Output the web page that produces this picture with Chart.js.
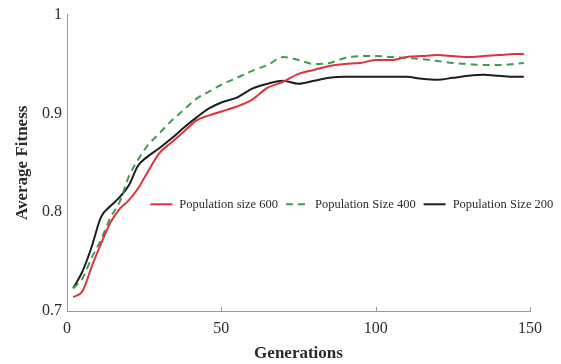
<!DOCTYPE html>
<html>
<head>
<meta charset="utf-8">
<script src="https://cdn.jsdelivr.net/npm/chart.js@4/dist/chart.umd.min.js"></script>
<style>
  html, body { margin: 0; padding: 0; background: #fff; }
  #wrap { width: 561px; height: 364px; }
</style>
</head>
<body>
<div id="wrap"><canvas id="fitness-chart" width="561" height="364"></canvas></div>
<script>
// Data
const generations = [2, 5, 8, 11, 14, 17, 20, 23, 26, 30, 34, 38, 42, 46, 50, 55, 60, 65, 70, 75, 80, 85, 90, 95, 100, 105, 110, 115, 120, 125, 130, 135, 140, 145, 148];
const pop600 = [0.714, 0.720, 0.745, 0.768, 0.789, 0.803, 0.812, 0.824, 0.840, 0.860, 0.871, 0.882, 0.893, 0.898, 0.902, 0.907, 0.914, 0.926, 0.932, 0.940, 0.944, 0.948, 0.950, 0.951, 0.954, 0.954, 0.957, 0.958, 0.959, 0.958, 0.957, 0.958, 0.959, 0.960, 0.960];
const pop400 = [0.723, 0.733, 0.754, 0.772, 0.794, 0.810, 0.836, 0.853, 0.867, 0.880, 0.893, 0.904, 0.915, 0.922, 0.929, 0.936, 0.943, 0.949, 0.957, 0.954, 0.950, 0.951, 0.956, 0.958, 0.958, 0.957, 0.956, 0.955, 0.953, 0.951, 0.950, 0.949, 0.949, 0.950, 0.951];
const pop200 = [0.723, 0.740, 0.765, 0.795, 0.806, 0.815, 0.827, 0.847, 0.856, 0.865, 0.875, 0.886, 0.896, 0.905, 0.911, 0.916, 0.925, 0.930, 0.933, 0.930, 0.933, 0.936, 0.937, 0.937, 0.937, 0.937, 0.937, 0.935, 0.934, 0.936, 0.938, 0.939, 0.938, 0.937, 0.937];
const xTicks = [0, 50, 100, 150];
const yTicks = [0.7, 0.8, 0.9, 1];
const seriesNames = ['Population size 600', 'Population Size 400', 'Population Size 200'];

const SERIF = '"Liberation Serif", "DejaVu Serif", serif';
const TEXT = '#2b2b2b';
const AXIS = '#9a9a9a';

const toPoints = vals => generations.map((g, i) => ({ x: g, y: vals[i] }));

// small upward ticks on the x axis, and the legend drawn inside the plot
const extras = {
    id: 'extras',
    afterDraw(chart) {
        const ctx = chart.ctx;
        const xs = chart.scales.x;
        const ys = chart.scales.y;
        ctx.save();
        ctx.strokeStyle = AXIS;
        ctx.lineWidth = 1;
        xTicks.forEach(v => {
            const px = Math.round(xs.getPixelForValue(v)) + 0.5;
            ctx.beginPath();
            ctx.moveTo(px, ys.bottom);
            ctx.lineTo(px, ys.bottom - 4);
            ctx.stroke();
        });

        // legend
        const ly = ys.getPixelForValue(0.808);
        let lx = xs.getPixelForValue(27);
        ctx.font = '12.5px ' + SERIF;
        ctx.textBaseline = 'middle';
        chart.data.datasets.forEach(ds => {
            ctx.strokeStyle = ds.borderColor;
            ctx.lineWidth = 2;
            ctx.setLineDash(ds.borderDash || []);
            ctx.beginPath();
            ctx.moveTo(lx, ly);
            ctx.lineTo(lx + 22, ly);
            ctx.stroke();
            ctx.setLineDash([]);
            ctx.fillStyle = TEXT;
            ctx.fillText(ds.label, lx + 29, ly);
            lx += 29 + ctx.measureText(ds.label).width + 8;
        });
        ctx.restore();
    }
};

new Chart(document.getElementById('fitness-chart'), {
    type: 'line',
    data: {
        datasets: [
            { label: seriesNames[0], data: toPoints(pop600), borderColor: '#e0313d', borderWidth: 2 },
            { label: seriesNames[1], data: toPoints(pop400), borderColor: '#3f9b51', borderWidth: 2, borderDash: [7, 5] },
            { label: seriesNames[2], data: toPoints(pop200), borderColor: '#1e1e1e', borderWidth: 2 }
        ]
    },
    options: {
        responsive: false,
        animation: false,
        devicePixelRatio: 1,
        layout: { padding: { left: 5, right: 31, top: 5, bottom: 0 } },
        elements: {
            point: { radius: 0 },
            line: { tension: 0.4, cubicInterpolationMode: 'monotone' }
        },
        plugins: {
            legend: { display: false },
            tooltip: { enabled: false }
        },
        scales: {
            x: {
                type: 'linear',
                min: 0,
                max: 150,
                afterBuildTicks: s => { s.ticks = xTicks.map(v => ({ value: v })); },
                afterFit: s => { s.height = 53; },
                grid: { display: false, drawTicks: false },
                border: { color: AXIS, width: 1 },
                ticks: { color: TEXT, padding: 8, font: { family: SERIF, size: 16 } },
                title: {
                    display: true,
                    text: 'Generations',
                    color: TEXT,
                    padding: { top: 4, bottom: 0 },
                    font: { family: SERIF, size: 17, weight: 'bold' }
                }
            },
            y: {
                min: 0.7,
                max: 1,
                afterBuildTicks: s => { s.ticks = yTicks.map(v => ({ value: v })); },
                afterFit: s => { s.width = 62; },
                grid: { display: false, drawTicks: false },
                border: { color: AXIS, width: 1 },
                ticks: { color: TEXT, padding: 5, font: { family: SERIF, size: 16 }, callback: v => String(v) },
                title: {
                    display: true,
                    text: 'Average Fitness',
                    color: TEXT,
                    padding: { top: 7, bottom: 0 },
                    font: { family: SERIF, size: 17, weight: 'bold' }
                }
            }
        }
    },
    plugins: [extras]
});
</script>
</body>
</html>
